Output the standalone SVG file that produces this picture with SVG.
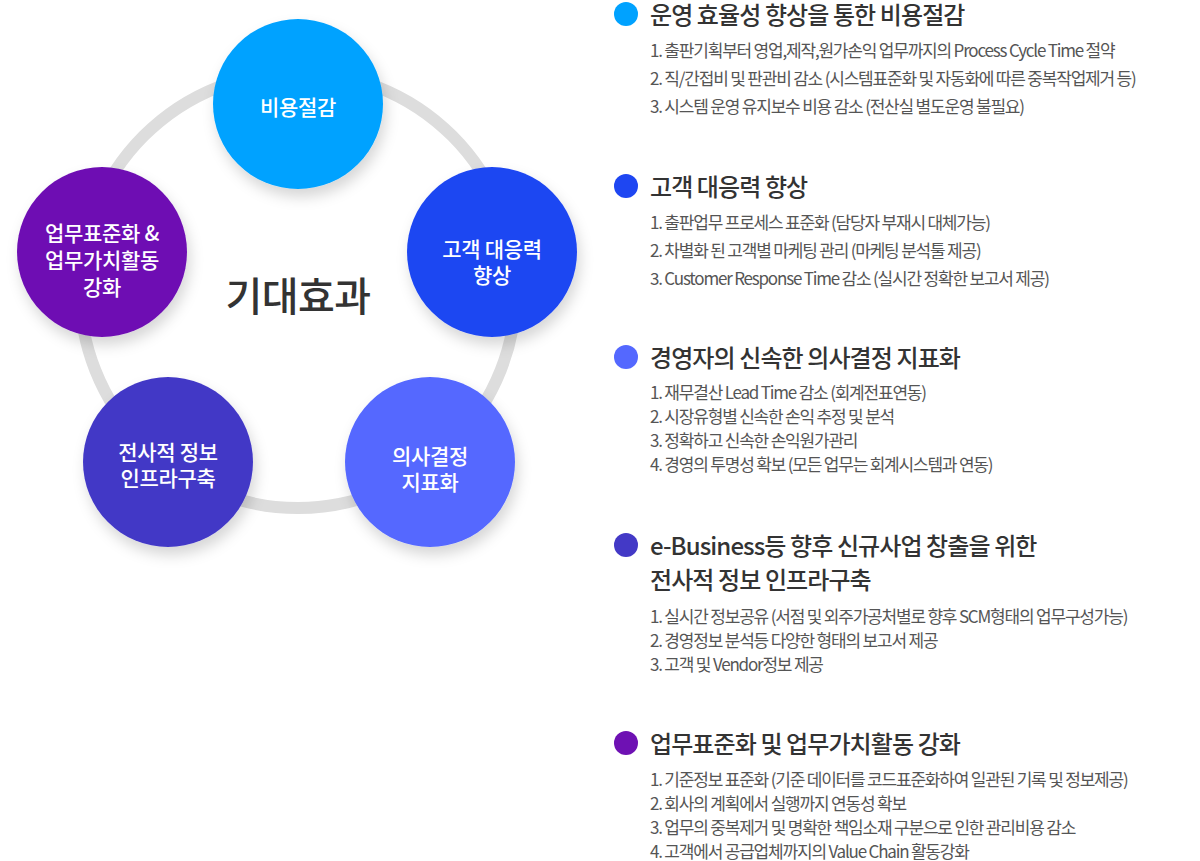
<svg xmlns="http://www.w3.org/2000/svg" width="1200" height="861" viewBox="0 0 1200 861">
<defs>
<filter id="sh" x="-30%" y="-30%" width="160%" height="170%">
<feDropShadow dx="3" dy="8" stdDeviation="7" flood-color="#000" flood-opacity="0.16"/>
</filter>
<style>
text{font-family:"Noto Sans CJK KR","Noto Sans",sans-serif;}
.ct{fill:#fff;font-size:21px;font-weight:500;text-anchor:middle;letter-spacing:-0.3px;}
.hd{fill:#333;font-size:24px;font-weight:500;letter-spacing:-0.9px;}
.it{fill:#555;font-size:17px;letter-spacing:-1.2px;}
</style>
</defs>
<rect width="1200" height="861" fill="#fff"/>
<g id="connectors">
<circle cx="298" cy="290" r="218" fill="none" stroke="#dddddd" stroke-width="12"/>
</g>
<text x="298" y="311" font-size="40" font-weight="500" fill="#333" text-anchor="middle" style="letter-spacing:-0.5px">기대효과</text>
<g id="n1">
<circle cx="298" cy="104" r="85" fill="#00a2ff" filter="url(#sh)"/>
<text class="ct" x="298" y="115">비용절감</text>
</g>
<g id="n2">
<circle cx="492" cy="252" r="85" fill="#1e46f2" filter="url(#sh)"/>
<text class="ct" x="492" y="257">고객 대응력</text>
<text class="ct" x="492" y="283">향상</text>
</g>
<g id="n3">
<circle cx="430" cy="462" r="85" fill="#5468ff" filter="url(#sh)"/>
<text class="ct" x="430" y="464">의사결정</text>
<text class="ct" x="430" y="490">지표화</text>
</g>
<g id="n4">
<circle cx="168" cy="462" r="85" fill="#4339c6" filter="url(#sh)"/>
<text class="ct" x="168" y="460">전사적 정보</text>
<text class="ct" x="168" y="486">인프라구축</text>
</g>
<g id="n5">
<circle cx="102" cy="252" r="85" fill="#6e11b3" filter="url(#sh)"/>
<text class="ct" x="102" y="241">업무표준화 &amp;</text>
<text class="ct" x="102" y="268">업무가치활동</text>
<text class="ct" x="102" y="295">강화</text>
</g>
<g id="s1">
<circle cx="626" cy="14" r="12" fill="#00a2ff"/>
<text class="hd" x="650" y="24">운영 효율성 향상을 통한 비용절감</text>
<text class="it" x="650" y="57">1. 출판기획부터 영업,제작,원가손익 업무까지의 Process Cycle Time 절약</text>
<text class="it" x="650" y="85">2. 직/간접비 및 판관비 감소 (시스템표준화 및 자동화에 따른 중복작업제거 등)</text>
<text class="it" x="650" y="113">3. 시스템 운영 유지보수 비용 감소 (전산실 별도운영 불필요)</text>
</g>
<g id="s2">
<circle cx="626" cy="186" r="12" fill="#1e46f2"/>
<text class="hd" x="650" y="196">고객 대응력 향상</text>
<text class="it" x="650" y="229">1. 출판업무 프로세스 표준화 (담당자 부재시 대체가능)</text>
<text class="it" x="650" y="257">2. 차별화 된 고객별 마케팅 관리 (마케팅 분석툴 제공)</text>
<text class="it" x="650" y="285">3. Customer Response Time 감소 (실시간 정확한 보고서 제공)</text>
</g>
<g id="s3">
<circle cx="626" cy="357" r="12" fill="#5468ff"/>
<text class="hd" x="650" y="367">경영자의 신속한 의사결정 지표화</text>
<text class="it" x="650" y="399">1. 재무결산 Lead Time 감소 (회계전표연동)</text>
<text class="it" x="650" y="423">2. 시장유형별 신속한 손익 추정 및 분석</text>
<text class="it" x="650" y="447">3. 정확하고 신속한 손익원가관리</text>
<text class="it" x="650" y="471">4. 경영의 투명성 확보 (모든 업무는 회계시스템과 연동)</text>
</g>
<g id="s4">
<circle cx="626" cy="545" r="12" fill="#4339c6"/>
<text class="hd" x="650" y="555">e-Business등 향후 신규사업 창출을 위한</text>
<text class="hd" x="650" y="589">전사적 정보 인프라구축</text>
<text class="it" x="650" y="623">1. 실시간 정보공유 (서점 및 외주가공처별로 향후 SCM형태의 업무구성가능)</text>
<text class="it" x="650" y="647">2. 경영정보 분석등 다양한 형태의 보고서 제공</text>
<text class="it" x="650" y="671">3. 고객 및 Vendor정보 제공</text>
</g>
<g id="s5">
<circle cx="626" cy="743" r="12" fill="#6e11b3"/>
<text class="hd" x="650" y="753">업무표준화 및 업무가치활동 강화</text>
<text class="it" x="650" y="786">1. 기준정보 표준화 (기준 데이터를 코드표준화하여 일관된 기록 및 정보제공)</text>
<text class="it" x="650" y="810">2. 회사의 계획에서 실행까지 연동성 확보</text>
<text class="it" x="650" y="834">3. 업무의 중복제거 및 명확한 책임소재 구분으로 인한 관리비용 감소</text>
<text class="it" x="650" y="858">4. 고객에서 공급업체까지의 Value Chain 활동강화</text>
</g>
</svg>
